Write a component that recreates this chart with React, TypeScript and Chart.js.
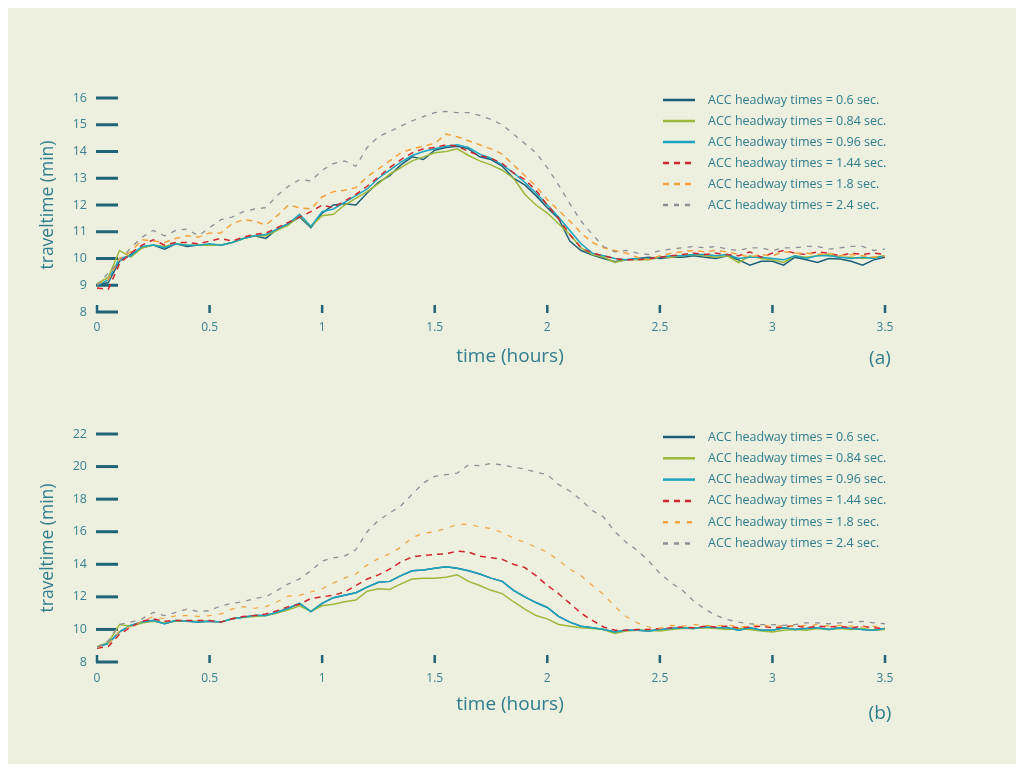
import React, { useEffect, useRef } from "react";
import { Chart, registerables } from "chart.js";

Chart.register(...registerables);

// ---------- data ----------
const TIME_HOURS = [
  0, 0.05, 0.1, 0.15, 0.2, 0.25, 0.3, 0.35, 0.4, 0.45,
  0.5, 0.55, 0.6, 0.65, 0.7, 0.75, 0.8, 0.85, 0.9, 0.95,
  1.0, 1.05, 1.1, 1.15, 1.2, 1.25, 1.3, 1.35, 1.4, 1.45,
  1.5, 1.55, 1.6, 1.65, 1.7, 1.75, 1.8, 1.85, 1.9, 1.95,
  2.0, 2.05, 2.1, 2.15, 2.2, 2.25, 2.3, 2.35, 2.4, 2.45,
  2.5, 2.55, 2.6, 2.65, 2.7, 2.75, 2.8, 2.85, 2.9, 2.95,
  3.0, 3.05, 3.1, 3.15, 3.2, 3.25, 3.3, 3.35, 3.4, 3.45,
  3.5,
];

const X_TICKS = [0, 0.5, 1, 1.5, 2, 2.5, 3, 3.5];
const A_Y_TICKS = [8, 9, 10, 11, 12, 13, 14, 15, 16];
const B_Y_TICKS = [8, 10, 12, 14, 16, 18, 20, 22];

const SERIES_LABELS = [
  "ACC headway times = 0.6 sec.",
  "ACC headway times = 0.84 sec.",
  "ACC headway times = 0.96 sec.",
  "ACC headway times = 1.44 sec.",
  "ACC headway times = 1.8 sec.",
  "ACC headway times = 2.4 sec.",
];

// Panel (a)
const A_060 = [
  9.0, 9.1, 9.9, 10.15, 10.4, 10.5, 10.35, 10.55, 10.45, 10.5,
  10.5, 10.5, 10.6, 10.75, 10.85, 10.75, 11.1, 11.3, 11.55, 11.15,
  11.7, 12.0, 12.05, 12.0, 12.45, 12.85, 13.1, 13.5, 13.8, 13.7,
  14.05, 14.15, 14.2, 14.1, 13.8, 13.7, 13.45, 13.0, 12.75, 12.35,
  11.9, 11.5, 10.65, 10.3, 10.13, 10.0, 9.88, 9.95, 10.0, 10.05,
  10.0, 10.05, 10.05, 10.1, 10.05, 10.0, 10.1, 9.95, 9.75, 9.9,
  9.9, 9.75, 10.05, 9.95, 9.85, 10.0, 9.98, 9.9, 9.75, 9.95,
  10.05,
];
const A_084 = [
  9.05, 9.3, 10.3, 10.05, 10.4, 10.5, 10.45, 10.55, 10.5, 10.5,
  10.5, 10.5, 10.6, 10.75, 10.85, 10.85, 11.05, 11.25, 11.6, 11.2,
  11.6, 11.65, 12.0, 12.25, 12.5, 12.8, 13.15, 13.4, 13.65, 13.8,
  13.95, 14.0, 14.1, 13.85, 13.65, 13.5, 13.3, 13.0, 12.4, 12.0,
  11.7, 11.3, 10.9, 10.4, 10.15, 10.05, 9.85, 9.95, 9.95, 9.95,
  10.05, 10.05, 10.1, 10.15, 10.1, 10.05, 10.1, 9.85, 10.1, 10.0,
  9.95, 9.85, 10.1, 10.05, 10.1, 10.15, 10.05, 10.05, 10.0, 10.05,
  10.1,
];
const A_096 = [
  9.0, 9.2, 10.0, 10.1, 10.45, 10.5, 10.4, 10.55, 10.5, 10.5,
  10.55, 10.5, 10.6, 10.75, 10.85, 10.9, 11.1, 11.3, 11.65, 11.2,
  11.75, 11.85, 12.1, 12.35, 12.6, 13.0, 13.3, 13.6, 13.85, 14.0,
  14.1, 14.2, 14.25, 14.15, 13.9, 13.75, 13.5, 13.2, 12.85, 12.45,
  12.0, 11.55, 11.05, 10.55, 10.2, 10.1, 10.0, 9.95, 10.0, 10.0,
  10.05, 10.1, 10.1, 10.15, 10.15, 10.1, 10.15, 10.0, 10.05, 10.05,
  10.0, 9.95, 10.1, 10.0, 10.1, 10.1, 10.05, 10.0, 10.05, 10.0,
  10.1,
];
const A_144 = [
  8.9, 8.85, 9.8, 10.2, 10.5, 10.7, 10.5, 10.6, 10.6, 10.55,
  10.65, 10.75, 10.65, 10.8, 10.9, 10.95, 11.15, 11.35, 11.55, 11.75,
  12.0, 11.9, 12.15, 12.4, 12.7, 13.05, 13.4, 13.7, 13.95, 14.1,
  14.15, 14.25, 14.2, 14.0, 13.85, 13.75, 13.55, 13.2, 12.95, 12.55,
  12.0, 11.5, 10.9, 10.4, 10.2, 10.1, 10.0, 9.95, 9.95, 10.0,
  10.05, 10.1, 10.15, 10.2, 10.15, 10.2, 10.15, 10.1, 10.25, 10.05,
  10.2, 10.3, 10.2, 10.15, 10.25, 10.2, 10.1, 10.2, 10.15, 10.2,
  10.15,
];
const A_180 = [
  9.05, 9.2, 10.0, 10.25, 10.7, 10.65, 10.6, 10.75, 10.85, 10.8,
  10.95, 10.95, 11.3, 11.45, 11.4, 11.25, 11.6, 12.0, 11.9, 11.85,
  12.3, 12.5, 12.55, 12.65, 13.05, 13.35, 13.65, 13.95, 14.1, 14.2,
  14.3, 14.65, 14.55, 14.4, 14.25, 14.1, 13.9, 13.5, 13.1, 12.7,
  12.2, 11.8, 11.4, 10.95, 10.6, 10.4, 10.3, 10.2, 10.05, 9.95,
  10.1, 10.2, 10.25, 10.3, 10.25, 10.3, 10.25, 10.15, 10.05, 10.15,
  10.1, 10.25, 10.2, 10.2, 10.15, 10.2, 10.1, 10.15, 10.1, 10.05,
  10.1,
];
const A_240 = [
  9.0, 9.45, 9.9, 10.4, 10.8, 11.05, 10.85, 11.05, 11.1, 10.85,
  11.15, 11.45, 11.55, 11.75, 11.85, 11.9, 12.35, 12.7, 12.95, 12.9,
  13.3, 13.55, 13.65, 13.45, 14.15, 14.55, 14.75, 14.95, 15.15, 15.3,
  15.45, 15.5, 15.45, 15.45, 15.35, 15.2, 15.0, 14.65, 14.3, 13.95,
  13.4, 12.75, 12.05, 11.4, 10.9, 10.45, 10.25, 10.3, 10.2, 10.15,
  10.3, 10.35, 10.4, 10.45, 10.4, 10.45, 10.35, 10.3, 10.4, 10.4,
  10.3, 10.4, 10.4, 10.45, 10.45, 10.35, 10.4, 10.45, 10.45, 10.3,
  10.35,
];

// Panel (b)  (0.6 s line lies hidden under the 0.96 s line)
const B_060 = [
  8.9, 9.15, 9.85, 10.25, 10.45, 10.55, 10.35, 10.55, 10.5, 10.45,
  10.5, 10.45, 10.65, 10.75, 10.85, 10.85, 11.05, 11.3, 11.6, 11.1,
  11.6, 11.95, 12.1, 12.25, 12.6, 12.9, 12.95, 13.3, 13.6, 13.65,
  13.75, 13.85, 13.75, 13.6, 13.4, 13.15, 12.95, 12.4, 12.0, 11.65,
  11.35, 10.8, 10.45, 10.2, 10.1, 10.0, 9.85, 9.95, 9.95, 9.9,
  10.0, 10.05, 10.1, 10.05, 10.15, 10.1, 10.1, 9.95, 10.1, 9.95,
  9.95, 10.1, 10.0, 10.05, 10.1, 10.0, 10.1, 10.05, 10.0, 9.95,
  10.05,
];
const B_084 = [
  8.95, 9.2, 10.3, 10.2, 10.4, 10.5, 10.4, 10.5, 10.5, 10.5,
  10.5, 10.45, 10.65, 10.75, 10.8, 10.85, 11.0, 11.2, 11.45, 11.1,
  11.45, 11.55, 11.7, 11.8, 12.35, 12.5, 12.45, 12.8, 13.1, 13.15,
  13.15, 13.2, 13.35, 12.95, 12.7, 12.4, 12.2, 11.7, 11.25, 10.85,
  10.65, 10.3, 10.2, 10.1, 10.05, 10.0, 9.75, 9.9, 9.95, 9.95,
  9.9, 10.0, 10.05, 10.05, 10.1, 10.05, 10.0, 10.05, 10.0, 9.9,
  9.85, 9.95, 10.0, 9.95, 10.05, 10.0, 10.05, 10.0, 10.05, 9.95,
  10.0,
];
const B_096 = [
  8.9, 9.15, 9.85, 10.25, 10.45, 10.55, 10.35, 10.55, 10.5, 10.45,
  10.5, 10.45, 10.65, 10.75, 10.85, 10.85, 11.05, 11.3, 11.6, 11.1,
  11.6, 11.95, 12.1, 12.25, 12.6, 12.9, 12.95, 13.3, 13.6, 13.65,
  13.75, 13.85, 13.75, 13.6, 13.4, 13.15, 12.95, 12.4, 12.0, 11.65,
  11.35, 10.8, 10.45, 10.2, 10.1, 10.0, 9.85, 9.95, 9.95, 9.9,
  10.0, 10.05, 10.1, 10.05, 10.15, 10.1, 10.1, 9.95, 10.1, 9.95,
  9.95, 10.1, 10.0, 10.05, 10.1, 10.0, 10.1, 10.05, 10.0, 9.95,
  10.05,
];
const B_144 = [
  8.85, 8.95, 9.7, 10.15, 10.5, 10.65, 10.5, 10.55, 10.55, 10.55,
  10.55, 10.45, 10.65, 10.8, 10.85, 10.95, 11.15, 11.4, 11.55, 11.9,
  12.0, 12.1, 12.3, 12.7, 13.1, 13.35, 13.7, 14.15, 14.45, 14.55,
  14.6, 14.65, 14.8, 14.75, 14.5, 14.4, 14.3, 14.0, 13.8, 13.3,
  12.7, 12.2, 11.6, 11.0, 10.55, 10.15, 9.95, 9.95, 10.0, 10.0,
  10.05, 10.1, 10.15, 10.1, 10.2, 10.15, 10.2, 10.1, 10.15, 10.2,
  10.1, 10.15, 10.25, 10.1, 10.2, 10.15, 10.2, 10.1, 10.2, 10.1,
  10.05,
];
const B_180 = [
  8.9, 9.1, 9.9, 10.2, 10.5, 10.8, 10.65, 10.85, 10.85, 10.8,
  10.85, 10.95, 11.25, 11.4, 11.3, 11.4, 11.7, 12.05, 12.1, 12.3,
  12.5, 12.85, 13.15, 13.4, 13.95, 14.35, 14.65, 15.05, 15.65, 15.9,
  16.0, 16.2, 16.45, 16.45, 16.3, 16.2, 15.95, 15.6, 15.35, 15.05,
  14.75, 14.25, 13.7, 13.3, 12.7, 12.15, 11.4, 10.8, 10.4, 10.15,
  10.05, 10.25, 10.2, 10.3, 10.25, 10.2, 10.3, 10.15, 10.2, 10.3,
  10.15, 10.25, 10.2, 10.25, 10.3, 10.2, 10.25, 10.2, 10.15, 10.2,
  10.1,
];
const B_240 = [
  8.9, 9.3, 10.3, 10.45, 10.65, 11.05, 10.85, 11.05, 11.25, 11.1,
  11.15, 11.45, 11.6, 11.7, 11.9, 12.0, 12.4, 12.8, 13.1, 13.6,
  14.2, 14.4, 14.5, 14.9, 16.0, 16.7, 17.15, 17.6, 18.3, 19.0,
  19.4, 19.5, 19.6, 20.1, 20.05, 20.2, 20.1, 19.95, 19.85, 19.65,
  19.5, 18.9, 18.5, 17.95, 17.3, 16.9, 16.0, 15.35, 14.85, 14.2,
  13.45, 12.85, 12.4, 11.75, 11.25, 10.85, 10.6, 10.45, 10.35, 10.3,
  10.3, 10.25, 10.3, 10.4, 10.4, 10.35, 10.4, 10.45, 10.5, 10.4,
  10.35,
];

// ---------- styles ----------
const FONT = '"Open Sans", "DejaVu Sans", sans-serif';
const BG = "#EDEFDF";
const TICK_COLOR = "#1F6479";
const LABEL_COLOR = "#3A8192";
const TITLE_COLOR = "#2F7D8D";
const COLORS = ["#1D5F78", "#9DB83A", "#1CA4C0", "#D1262E", "#F6A23C", "#8D8F95"];

type PanelStyle = {
  dashes: number[][];
  widths: number[];
  padTop: number;
  xAxisHeight: number;
  xLabelPad: number;
  xTitleDy: number;
  legendTop: number;
  legendGap: number;
  letter: string;
  letterDy: number;
};

const decorPlugin = {
  id: "decor",
  beforeDatasetsDraw(chart: any) {
    const { ctx, chartArea, scales } = chart;
    ctx.save();
    ctx.strokeStyle = TICK_COLOR;
    ctx.lineCap = "butt";
    ctx.lineWidth = 3;
    scales.y.ticks.forEach((t: any) => {
      const y = scales.y.getPixelForValue(t.value);
      ctx.beginPath();
      ctx.moveTo(chartArea.left - 1, y);
      ctx.lineTo(chartArea.left + 21, y);
      ctx.stroke();
    });
    ctx.lineWidth = 2.5;
    scales.x.ticks.forEach((t: any) => {
      const x = scales.x.getPixelForValue(t.value);
      ctx.beginPath();
      ctx.moveTo(x, chartArea.bottom + 1);
      ctx.lineTo(x, chartArea.bottom - 7);
      ctx.stroke();
    });
    ctx.restore();
  },
  afterDraw(chart: any, _args: any, opts: any) {
    const { ctx, chartArea } = chart;
    ctx.save();
    chart.data.datasets.forEach((ds: any, i: number) => {
      const y = chartArea.top + opts.legendTop + i * opts.legendGap;
      ctx.strokeStyle = ds.borderColor;
      ctx.lineWidth = 2.5;
      ctx.setLineDash(ds.borderDash || []);
      ctx.beginPath();
      ctx.moveTo(chartArea.right - 222, y);
      ctx.lineTo(chartArea.right - 190, y);
      ctx.stroke();
      ctx.setLineDash([]);
      ctx.fillStyle = TITLE_COLOR;
      ctx.font = `12.5px ${FONT}`;
      ctx.textAlign = "left";
      ctx.textBaseline = "middle";
      ctx.fillText(ds.label, chartArea.right - 177, y);
    });
    ctx.fillStyle = TITLE_COLOR;
    ctx.textAlign = "center";
    ctx.textBaseline = "middle";
    ctx.font = `19px ${FONT}`;
    ctx.fillText("time (hours)", (chartArea.left + chartArea.right) / 2 + 19, chartArea.bottom + opts.xTitleDy);
    ctx.fillText(opts.letter, chartArea.right - 5, chartArea.bottom + opts.letterDy);
    ctx.restore();
  },
};

function Panel(props: {
  series: number[][];
  yTicks: number[];
  style: PanelStyle;
  top: number;
}) {
  const ref = useRef<HTMLCanvasElement | null>(null);
  useEffect(() => {
    if (!ref.current) return;
    const { series, yTicks, style } = props;
    const chart = new Chart(ref.current, {
      type: "line",
      data: {
        datasets: series.map((vals, i) => ({
          label: SERIES_LABELS[i],
          data: TIME_HOURS.map((t, k) => ({ x: t, y: vals[k] })),
          borderColor: COLORS[i],
          borderWidth: style.widths[i],
          borderDash: style.dashes[i],
          pointRadius: 0,
          tension: 0,
          fill: false,
          order: 6 - i,
        })),
      },
      options: {
        animation: false,
        responsive: false,
        events: [],
        layout: { padding: { top: style.padTop, right: 131, left: 0, bottom: 0 } },
        plugins: {
          legend: { display: false },
          tooltip: { enabled: false },
          decor: style,
        } as any,
        scales: {
          x: {
            type: "linear",
            min: X_TICKS[0],
            max: X_TICKS[X_TICKS.length - 1],
            afterBuildTicks: (s: any) => {
              s.ticks = X_TICKS.map((v) => ({ value: v }));
            },
            afterFit: (s: any) => {
              s.height = style.xAxisHeight;
            },
            grid: { display: false, drawTicks: false },
            border: { display: false },
            ticks: {
              padding: style.xLabelPad,
              color: LABEL_COLOR,
              font: { family: FONT, size: 12 },
              maxRotation: 0,
              autoSkip: false,
              callback: (v: any) => String(v),
            },
            title: { display: false },
          },
          y: {
            type: "linear",
            min: yTicks[0],
            max: yTicks[yTicks.length - 1],
            afterBuildTicks: (s: any) => {
              s.ticks = yTicks.map((v) => ({ value: v }));
            },
            afterFit: (s: any) => {
              s.width = 89;
            },
            grid: { display: false, drawTicks: false },
            border: { display: false },
            ticks: {
              padding: 10,
              color: LABEL_COLOR,
              font: { family: FONT, size: 12.5 },
              autoSkip: false,
              callback: (v: any) => String(v),
            },
            title: {
              display: true,
              text: "traveltime (min)",
              color: TITLE_COLOR,
              font: { family: FONT, size: 17.5 },
              padding: { top: 30, bottom: 0 },
            },
          },
        },
      },
      plugins: [decorPlugin],
    } as any);
    return () => chart.destroy();
  }, []);
  return (
    <div style={{ position: "absolute", left: 0, top: props.top, width: 1008, height: 378 }}>
      <canvas ref={ref} width={1008} height={378} style={{ display: "block" }} />
    </div>
  );
}

const STYLE_A: PanelStyle = {
  dashes: [[], [], [], [6, 5], [6, 5], [5, 6]],
  widths: [1.5, 1.5, 1.5, 1.5, 1.5, 1.3],
  padTop: 90,
  xAxisHeight: 74,
  xLabelPad: 8,
  xTitleDy: 45,
  legendTop: 2,
  legendGap: 21,
  letter: "(a)",
  letterDy: 47,
};

const STYLE_B: PanelStyle = {
  dashes: [[], [], [], [6, 5], [5, 7], [5, 6]],
  widths: [1.5, 1.5, 1.5, 1.5, 1.2, 1.3],
  padTop: 48,
  xAxisHeight: 102,
  xLabelPad: 9,
  xTitleDy: 43,
  legendTop: 3,
  legendGap: 21.3,
  letter: "(b)",
  letterDy: 52,
};

export default function App() {
  return (
    <div style={{ position: "relative", width: 1008, height: 756, background: BG, fontFamily: FONT }}>
      <Panel series={[A_060, A_084, A_096, A_144, A_180, A_240]} yTicks={A_Y_TICKS} style={STYLE_A} top={0} />
      <Panel series={[B_060, B_084, B_096, B_144, B_180, B_240]} yTicks={B_Y_TICKS} style={STYLE_B} top={378} />
    </div>
  );
}
